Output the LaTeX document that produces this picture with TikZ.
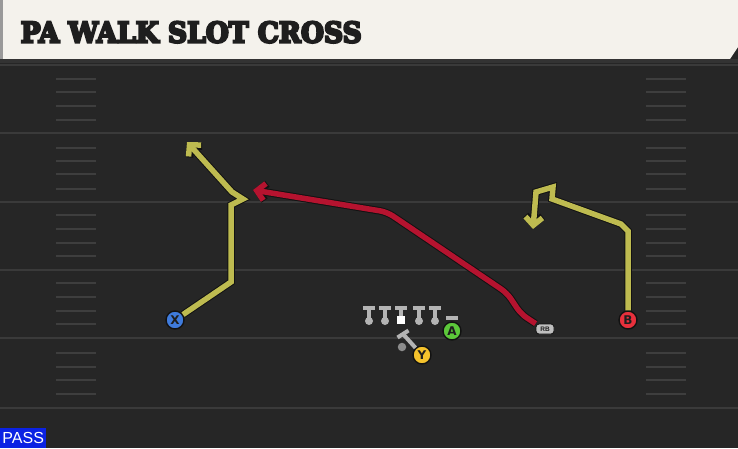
\documentclass[tikz,border=0pt]{standalone}
\usepackage{fontspec}
\setmainfont{Liberation Sans}
\newfontfamily\titlefont[BoldFeatures={FakeBold=8}]{DejaVu Serif}
\newfontfamily\letterfont{DejaVu Sans}
\usetikzlibrary{arrows.meta}
\definecolor{bgc}{HTML}{262626}
\definecolor{yardc}{HTML}{3A3A3A}
\definecolor{hashc}{HTML}{3E3E3E}
\definecolor{hdrc}{HTML}{F4F2EC}
\definecolor{titlec}{HTML}{1E1E1E}
\definecolor{ylwc}{HTML}{BEBB50}
\definecolor{redc}{HTML}{B5132F}
\definecolor{xblue}{HTML}{3F7BDC}
\definecolor{bred}{HTML}{E8303C}
\definecolor{agreen}{HTML}{5CC83A}
\definecolor{yyel}{HTML}{F4C22C}
\definecolor{passc}{HTML}{0B22E3}
\definecolor{blkc}{HTML}{B4B4B4}
\definecolor{outl}{HTML}{121212}
\tikzset{
  yardline/.style={draw=yardc, line width=2pt},
  hashmark/.style={draw=hashc, line width=1.6pt},
  player/.style={circle, draw=outl, line width=1.4pt, minimum size=18pt, inner sep=0pt,
    font=\letterfont\bfseries\fontsize{12}{12}\selectfont, text=titlec},
  routey/.style={draw=ylwc, line width=5.5pt, line join=miter,
    -{Straight Barb[length=8pt,width=17pt]},
    preaction={draw=outl, line width=7.5pt}},
  router/.style={draw=redc, line width=5.5pt, line join=miter,
    -{Straight Barb[length=8pt,width=17pt]},
    preaction={draw=outl, line width=7.5pt}},
  blk/.style={draw=blkc, line width=4pt},
  oldot/.style={circle, fill=blkc, minimum size=8pt, inner sep=0pt},
  rbtag/.style={draw=outl, fill=blkc!85!white, rounded corners=3pt, line width=0.8pt,
    minimum width=18pt, minimum height=10pt, inner sep=0pt,
    font=\fontsize{6.5}{6.5}\selectfont\bfseries, text=titlec},
}
\begin{document}
\begin{tikzpicture}[x=1pt,y=-1pt]
\useasboundingbox (0,0) rectangle (738,448);
\fill[bgc] (0,0) rectangle (738,448);
% header
\fill[hdrc] (0,0) -- (738,0) -- (738,47) -- (730,59) -- (0,59) -- cycle;
\fill[black!40] (0,0) rectangle (3,59);
\fill[black!80] (0,59) rectangle (738,63);
\node[anchor=base west, inner sep=0pt, text=titlec] (title) at (20.5,42.5)
  {\resizebox{341pt}{21pt}{\titlefont\bfseries PA WALK SLOT CROSS}};
% yard lines
\foreach \yy in {65,133,202,270,338,408} \draw[yardline] (0,\yy) -- (738,\yy);
% hash marks
\foreach \yy in {79,92,106,120,148,161,174,189,215,229,243,256,283,297,311,324,353,367,380,394} {
  \draw[hashmark] (56,\yy) -- (96,\yy);
  \draw[hashmark] (646,\yy) -- (686,\yy);
}
% players
\node[player, fill=xblue] (X) at (175,320) {X};
\node[player, fill=bred] (B) at (628,320) {B};
\node[player, fill=agreen] (A) at (452,331) {A};
\node[player, fill=yyel] (Y) at (422,355) {Y};
\node[rbtag] (RB) at (545,329) {RB};
% route ends
\coordinate (xend) at (187,142);
\coordinate (rend) at (253,190);
\coordinate (bend) at (533,229);
% routes
\draw[routey] (X) -- (231,282) -- (231,205) -- (243,199) -- (232,192) -- (xend);
\draw[routey] (B) -- (628,231) -- (621,224) -- (552,199) -- (553,187) -- (536,192) -- (bend);
\draw[router, rounded corners=7pt] (RB.north west) -- (521,314) -- (507,293) -- (387,212) -- (rend);
% offensive line
\foreach \n/\xx in {1/369,2/385,4/419,5/435} {
  \node[oldot] (ol\n) at (\xx,321) {};
  \draw[blk] (ol\n.center) -- (\xx,308);
  \draw[blk] (\xx-6,307.5) -- (\xx+6,307.5);
}
\node[fill=white, minimum size=8pt, inner sep=0pt] (ol3) at (401,320) {};
\draw[blk] (ol3.north) -- (401,308);
\draw[blk] (395,307.5) -- (407,307.5);
% A block bar
\draw[blk] (446,318) -- (458,318);
% Y block
\coordinate (ytop) at (403,334);
\draw[blk] (Y) -- (ytop);
\draw[blk] (397.5,337.5) -- (408.5,330.5);
\node[oldot, fill=black!45, minimum size=8.5pt] (qb) at (402,347) {};
% PASS label
\node[fill=passc, text=white, anchor=south west, minimum width=46pt, minimum height=20pt,
  inner sep=0pt, font=\fontsize{16}{16}\selectfont] (pass) at (0,448) {PASS};
\end{tikzpicture}
\end{document}
